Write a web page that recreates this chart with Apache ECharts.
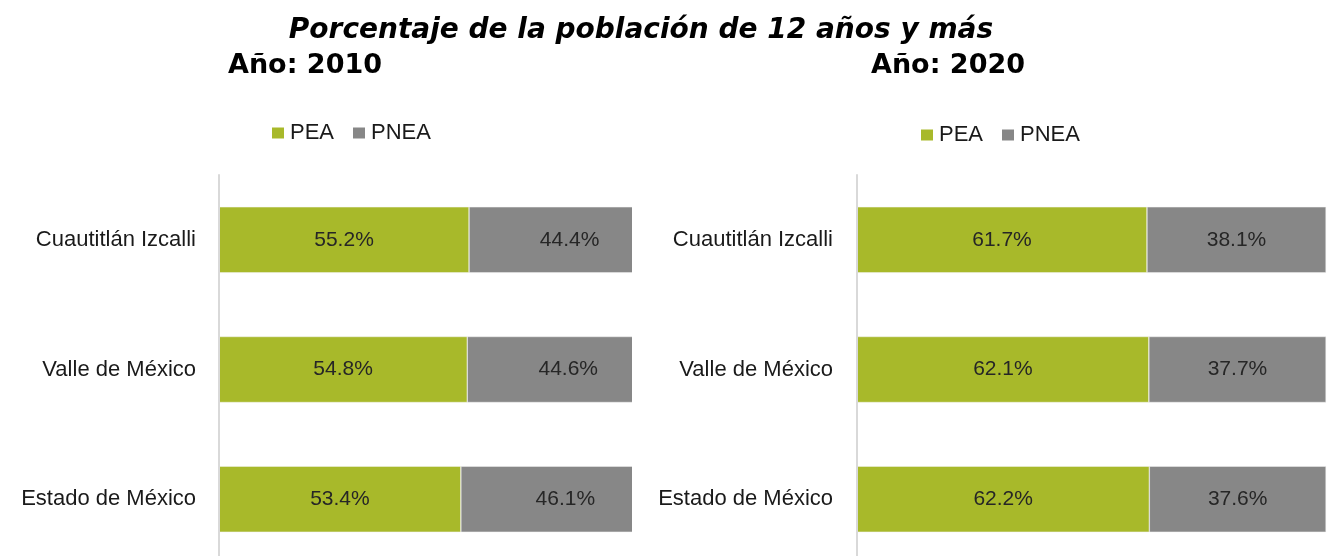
<!DOCTYPE html>
<html>
<head>
<meta charset="utf-8">
<script src="https://cdn.jsdelivr.net/npm/echarts@6/dist/echarts.min.js"></script>
<style>
  html, body { margin: 0; padding: 0; background: #fff; }
  #chart { width: 1329px; height: 556px; }
</style>
</head>
<body>
<div id="chart"></div>
<script>
const categories = ["Cuautitlán Izcalli", "Valle de México", "Estado de México"];
const seriesNames = ["PEA", "PNEA"];
const pea2010 = [55.2, 54.8, 53.4];
const pnea2010 = [44.4, 44.6, 46.1];
const pea2020 = [61.7, 62.1, 62.2];
const pnea2020 = [38.1, 37.7, 37.6];

const chart = echarts.init(document.getElementById("chart"));

const textFont = "Liberation Sans";
const titleFont = "DejaVu Sans";
const green = "#a8b92a";
const gray = "#878787";

// etiqueta centrada dentro de cada barra
const barLabel = {
  show: true,
  position: "inside",
  fontFamily: textFont,
  fontSize: 21,
  color: "#262626",
  formatter: (p) => p.value.toFixed(1) + "%",
};

function makeBar(name, data, color, idx) {
  return {
    name: name,
    type: "bar",
    stack: "s" + idx,
    xAxisIndex: idx,
    yAxisIndex: idx,
    barWidth: 66,
    data: data,
    itemStyle: { color: color, borderColor: "#f2f2f2", borderWidth: 0.5 },
    label: barLabel,
    emphasis: { disabled: true },
  };
}

function makeYAxis(idx, margin) {
  return {
    type: "category",
    gridIndex: idx,
    data: categories,
    inverse: true,
    z: 200,
    axisLine: { show: true, lineStyle: { color: "#d9d9d9", width: 2 } },
    axisTick: { show: false },
    axisLabel: {
      margin: margin,
      fontFamily: textFont,
      fontSize: 22,
      color: "#1a1a1a",
    },
  };
}

function makeLegend(left, top) {
  return {
    left: left,
    top: top,
    itemWidth: 12,
    itemHeight: 11,
    itemGap: 19,
    icon: "rect",
    data: seriesNames,
    itemStyle: { borderWidth: 0 },
    textStyle: { fontFamily: textFont, fontSize: 22, color: "#1a1a1a", padding: [0, 0, 0, 1] },
  };
}

const option = {
  animation: false,
  backgroundColor: "#fff",
  color: [green, gray],
  title: [
    {
      text: "Porcentaje de la población de 12 años y más",
      left: 636,
      textAlign: "center",
      top: 12,
      textStyle: { fontFamily: titleFont, fontStyle: "italic", fontWeight: "bold", fontSize: 28, color: "#000" },
    },
    {
      text: "Año: 2010",
      left: 223,
      top: 47,
      textStyle: { fontFamily: titleFont, fontWeight: "bold", fontSize: 27, color: "#000" },
    },
    {
      text: "Año: 2020",
      left: 866,
      top: 47,
      textStyle: { fontFamily: titleFont, fontWeight: "bold", fontSize: 27, color: "#000" },
    },
  ],
  legend: [makeLegend(267, 117), makeLegend(916, 119)],
  grid: [
    { left: 219, top: 175, width: 453, height: 389, outerBoundsMode: "none", containLabel: false },
    { left: 857, top: 175, width: 470, height: 389, outerBoundsMode: "none", containLabel: false },
  ],
  xAxis: [
    { type: "value", gridIndex: 0, min: 0, max: 100, show: false },
    { type: "value", gridIndex: 1, min: 0, max: 100, show: false },
  ],
  yAxis: [makeYAxis(0, 23), makeYAxis(1, 24)],
  // la gráfica derecha tapa el final de la barra gris izquierda
  graphic: [
    {
      type: "rect",
      z: 100,
      shape: { x: 632, y: 170, width: 215, height: 400 },
      style: { fill: "#fff" },
    },
  ],
  series: [
    makeBar(seriesNames[0], pea2010, green, 0),
    makeBar(seriesNames[1], pnea2010, gray, 0),
    makeBar(seriesNames[0], pea2020, green, 1),
    makeBar(seriesNames[1], pnea2020, gray, 1),
  ],
};

chart.setOption(option);
</script>
</body>
</html>
